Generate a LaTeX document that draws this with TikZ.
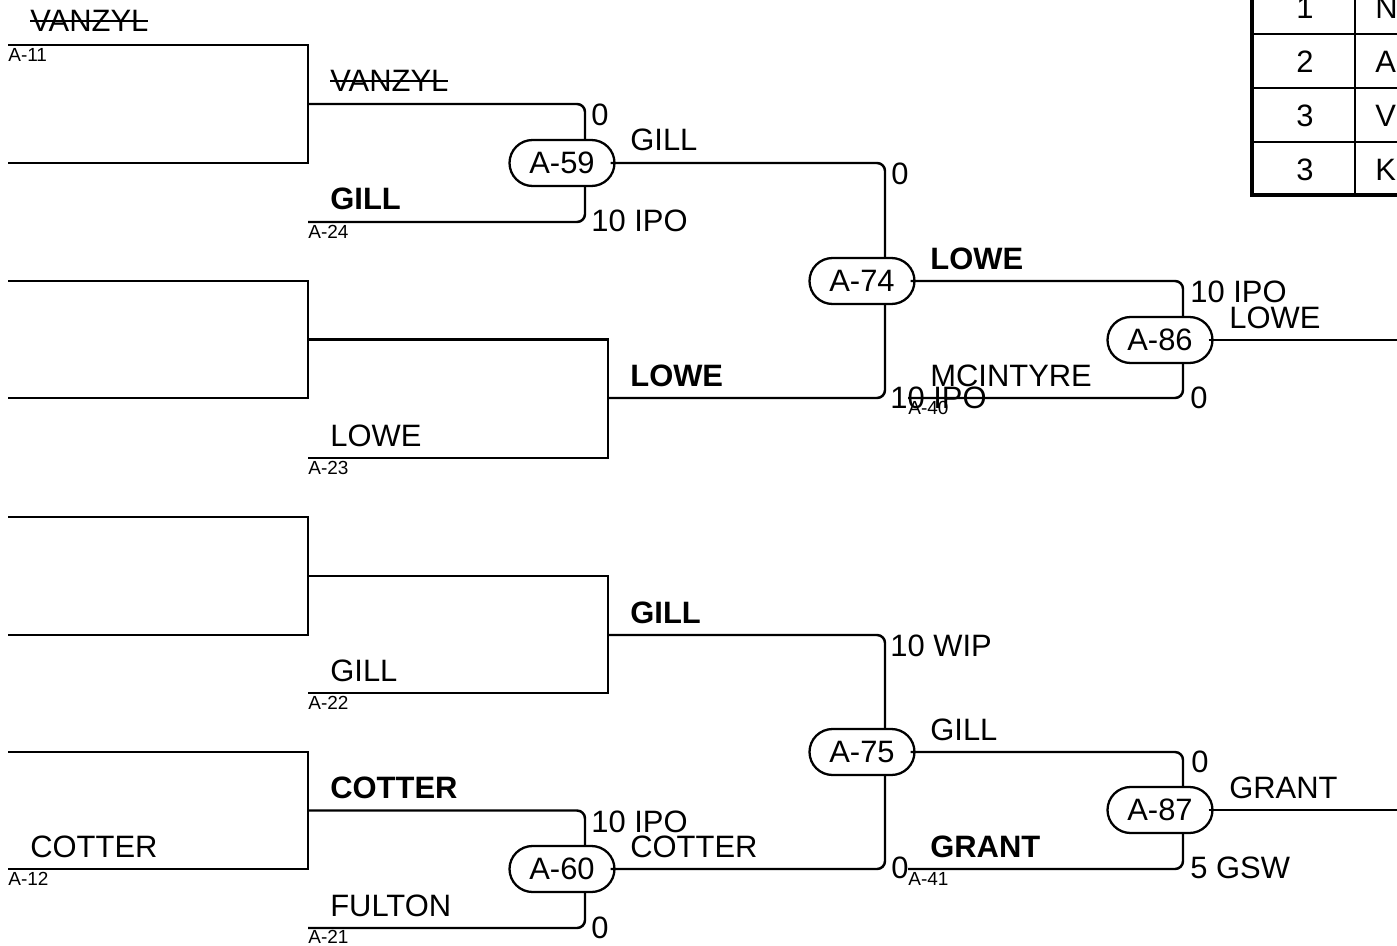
\documentclass[tikz,border=0pt]{standalone}
\usepackage{fontspec}
\setmainfont{Liberation Sans}
\usetikzlibrary{shapes.misc,positioning}

\newcommand{\struck}[1]{\setbox0\hbox{#1}\rlap{\rule[0.33em]{\wd0}{1.1pt}}\box0}

\begin{document}
\begin{tikzpicture}[
    x=0.02cm, y=-0.02cm,
    flatbar/.style={line width=1.4pt},
    roundbar/.style={line width=1.4pt, rounded corners=0.16cm},
    game/.style={rounded rectangle, draw, line width=1.3pt, fill=white, minimum width=2.1cm, minimum height=0.92cm, inner sep=0pt, font=\fontsize{17.6}{20}\selectfont},
    player/.style={anchor=base west, inner sep=0pt, font=\fontsize{17.6}{20}\selectfont},
    winner/.style={player, font=\fontsize{17.6}{20}\selectfont\bfseries},
    pts/.style={player},
    slot/.style={anchor=north west, inner sep=0pt, font=\fontsize{10.8}{12}\selectfont},
    cell/.style={anchor=base, inner sep=0pt, font=\fontsize{17.6}{20}\selectfont}
]
\useasboundingbox (0,0) rectangle (1397,946);
\clip (0,0) rectangle (1397,946);

% first round pairs
\foreach \n/\t/\b in {q1/45/163, q2/281/398, q3/517/635, q4/752/869} {
  \coordinate (\n-t) at (8,\t);
  \coordinate (\n-b) at (8,\b);
  \coordinate (\n) at (308,{(\t+\b)/2});
  \draw[flatbar] (\n-t) -| (\n) |- (\n-b);
}

\coordinate (e24) at (308,222);
\coordinate (e23) at (308,458);
\coordinate (e22) at (308,693);
\coordinate (e21) at (308,928);
\coordinate (e40) at (908,398);
\coordinate (e41) at (908,869);
\coordinate (r2) at (608,398);
\coordinate (r3) at (608,635);
\coordinate (j59) at (585,163);
\coordinate (j60) at (585,869);
\coordinate (j74) at (885,281);
\coordinate (j75) at (885,752);
\coordinate (j86) at (1183,340);
\coordinate (j87) at (1183,810);
\coordinate (end86) at (1397,340);
\coordinate (end87) at (1397,810);

\draw[flatbar] (q2) -| (r2) |- (e23);
\draw[flatbar] (q3) -| (r3) |- (e22);
\draw[roundbar] (q1) -| (j59) |- (e24);
\draw[roundbar] (q4) -| (j60) |- (e21);

\node[game] (g59) at (562,163) {A-59};
\node[game] (g60) at (562,869) {A-60};

\draw[roundbar] ([xshift=-0.1cm]g59.east) -| (j74) |- (r2);
\draw[roundbar] (r3) -| (j75) |- ([xshift=-0.1cm]g60.east);

\node[game] (g74) at (862,281) {A-74};
\node[game] (g75) at (862,752) {A-75};

\draw[roundbar] ([xshift=-0.1cm]g74.east) -| (j86) |- (e40);
\draw[roundbar] ([xshift=-0.1cm]g75.east) -| (j87) |- (e41);

\node[game] (g86) at (1160,340) {A-86};
\node[game] (g87) at (1160,810) {A-87};

\draw[flatbar] ([xshift=-0.1cm]g86.east) -- (end86);
\draw[flatbar] ([xshift=-0.1cm]g87.east) -- (end87);

% names, ids and scores
\node[player] (vanzyl1) at (30,32) {\struck{VANZYL}};
\node[slot] (id11) at (8,48) {A-11};
\node[player] (vanzyl2) at (330,92) {\struck{VANZYL}};
\node[winner] (gill1) at (330,210) {GILL};
\node[slot] (id24) at (308,225) {A-24};
\node[pts] (s59a) at (591,126) {0};
\node[pts] (s59b) at (591,232) {10 IPO};
\node[player] (gill2) at (630,151) {GILL};
\node[player] (lowe1) at (330,446) {LOWE};
\node[slot] (id23) at (308,461) {A-23};
\node[winner] (lowe2) at (630,386) {LOWE};
\node[pts] (s74a) at (891,185) {0};
\node[pts] (s74b) at (890,408) {10 IPO};
\node[winner] (lowe3) at (930,269) {LOWE};
\node[player] (mcintyre) at (930,386) {MCINTYRE};
\node[slot] (id40) at (908,401) {A-40};
\node[pts] (s86a) at (1190,302) {10 IPO};
\node[pts] (s86b) at (1190,408) {0};
\node[player] (lowe4) at (1229,328) {LOWE};

\node[player] (gill3) at (330,681) {GILL};
\node[slot] (id22) at (308,696) {A-22};
\node[winner] (gill4) at (630,623) {GILL};
\node[player] (cotter1) at (30,857) {COTTER};
\node[slot] (id12) at (8,872) {A-12};
\node[winner] (cotter2) at (330,798) {COTTER};
\node[player] (fulton) at (330,916) {FULTON};
\node[slot] (id21) at (308,930) {A-21};
\node[pts] (s60a) at (591,832) {10 IPO};
\node[pts] (s60b) at (591,938) {0};
\node[player] (cotter3) at (630,857) {COTTER};
\node[pts] (s75a) at (890,656) {10 WIP};
\node[pts] (s75b) at (891,878) {0};
\node[player] (gill5) at (930,740) {GILL};
\node[winner] (grant1) at (930,857) {GRANT};
\node[slot] (id41) at (908,872) {A-41};
\node[pts] (s87a) at (1191,772) {0};
\node[pts] (s87b) at (1190,878) {5 GSW};
\node[player] (grant2) at (1229,798) {GRANT};

% standings table
\foreach \y in {34,88,142} \draw[flatbar] (1252,\y) -- (1460,\y);
\draw[flatbar] (1355,-20) -- (1355,195);
\draw[line width=2.8pt] (1252,-20) rectangle (1460,195);
\foreach \r/\y/\p in {1/19/N, 2/73/A, 3/127/V, 3/180/K} {
  \node[cell] (rank\y) at (1305,\y) {\r};
  \node[cell, anchor=base west] (who\y) at (1375,\y) {\p};
}
\end{tikzpicture}
\end{document}
